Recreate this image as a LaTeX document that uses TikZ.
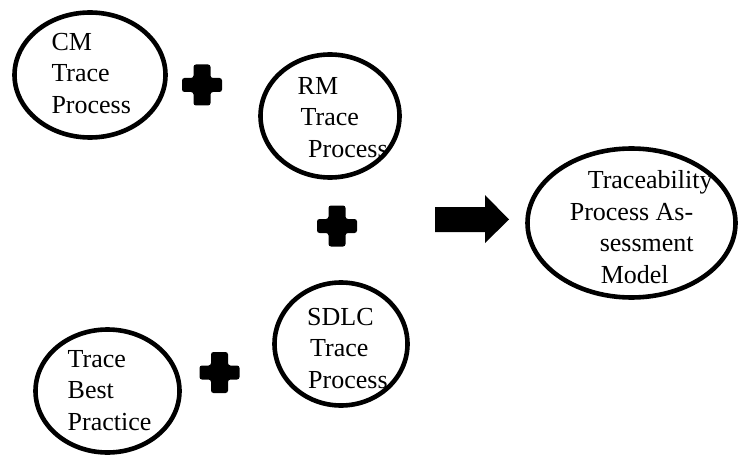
\documentclass[tikz,border=0pt]{standalone}
\usepackage{fontspec}
\setmainfont{Liberation Serif}
\tikzset{
  ell/.style={draw=black, line width=4.6pt, shape=ellipse, inner sep=0pt},
  lbl/.style={inner sep=0pt, align=left, anchor=south west, font=\fontsize{26}{31.5}\selectfont},
  plussign/.pic={
    \fill[black, rounded corners=2.5pt]
      (-8.5,-20.5) -- (8.5,-20.5) -- (8.5,-7) -- (20,-7) -- (20,7) -- (8.5,7) -- (8.5,20.5)
      -- (-8.5,20.5) -- (-8.5,7) -- (-20,7) -- (-20,-7) -- (-8.5,-7) -- cycle;
  }
}
\usetikzlibrary{shapes.geometric}
\begin{document}
\begin{tikzpicture}[x=1pt, y=-1pt]
\useasboundingbox[fill=white] (0,0) rectangle (738,457);

% ellipses
\node[ell, minimum width=151pt, minimum height=125pt] (cm) at (90,75) {};
\node[ell, minimum width=139pt, minimum height=123pt] (rm) at (330,116) {};
\node[ell, minimum width=208pt, minimum height=149pt] (tpam) at (631.5,223) {};
\node[ell, minimum width=133pt, minimum height=123pt] (sdlc) at (341,344) {};
\node[ell, minimum width=144pt, minimum height=123pt] (tbp) at (107.5,391) {};

% labels
\node[lbl] (cmt) at (51.3,113.5) {CM\\Trace\\Process};
\node[lbl] (rmt) at (297.5,157.5) {RM\\\hspace*{3pt}Trace\\\hspace*{10.5pt}Process};
\node[lbl] (tpamt) at (569.6,283.5) {\hspace*{18pt}Traceability\\Process As-\\\hspace*{30pt}sessment\\\hspace*{31pt}Model};
\node[lbl] (sdlct) at (307,388.5) {SDLC\\\hspace*{3pt}Trace\\\hspace*{1pt}Process};
\node[lbl] (tbpt) at (67.5,430.5) {Trace\\Best\\Practice};

% plus signs
\pic at (202,85) {plussign};
\pic at (337,226) {plussign};
\pic at (219.5,372.5) {plussign};

% block arrow
\fill[black] (435,207) -- (485,207) -- (485,195) -- (509,219.5) -- (485,243) -- (485,232) -- (435,232) -- cycle;
\end{tikzpicture}
\end{document}
